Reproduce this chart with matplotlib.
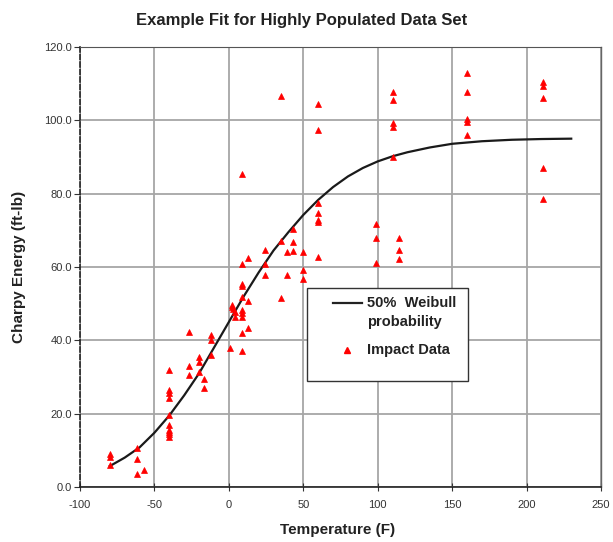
import matplotlib
matplotlib.use("Agg")
import matplotlib.pyplot as plt
from matplotlib.patches import Rectangle
from matplotlib.ticker import FormatStrFormatter

plt.rcParams['axes.unicode_minus'] = False

# impact data (temperature F, energy ft-lb)
impact_temp = [
    -80, -80, -80,
    -62, -62, -62, -57,
    -40, -40, -40, -40, -40, -40, -40, -40, -40, -40,
    -27, -27, -27,
    -20, -20, -20, -17, -17,
    -12, -12, -12,
    1, 2, 3, 4, 2, 4,
    9, 9, 9, 9, 9, 9, 9, 9, 9, 9,
    13, 13, 13,
    24, 24, 24,
    35, 35, 35,
    39, 39,
    43, 43, 43,
    50, 50, 50,
    60, 60, 60, 60, 60, 60, 60,
    99, 99, 99,
    110, 110, 110, 110, 110,
    114, 114, 114,
    160, 160, 160, 160, 160,
    211, 211, 211, 211, 211,
]
impact_energy = [
    9.0, 8.2, 5.9,
    10.6, 7.6, 3.6, 4.6,
    31.9, 26.5, 25.6, 24.3, 19.6, 16.9, 15.5, 14.5, 13.6, 15.0,
    42.3, 33.0, 30.5,
    35.5, 34.0, 31.4, 29.5, 27.0,
    41.5, 40.0, 36.0,
    38.0, 49.6, 48.5, 47.8, 49.0, 46.5,
    37.0, 42.1, 46.4, 47.5, 48.3, 51.9, 54.8, 55.5, 60.7, 85.4,
    43.4, 50.8, 62.5,
    64.6, 60.7, 57.8,
    67.2, 51.5, 106.7,
    64.0, 57.8,
    70.3, 66.9, 64.4,
    64.0, 59.2, 56.7,
    104.4, 97.4, 77.4, 74.7, 72.8, 72.3, 62.8,
    71.8, 67.9, 61.0,
    107.8, 105.5, 99.2, 98.3, 90.0,
    68.0, 64.7, 62.3,
    113.0, 107.8, 100.3, 99.6, 96.0,
    110.5, 109.4, 106.0, 86.9, 78.5,
]

# 50% Weibull curve
fit_temp = [-80, -70, -60, -50, -40, -30, -20, -10, 0, 10, 20, 30, 40, 50,
            60, 70, 80, 90, 100, 110, 120, 135, 150, 170, 190, 210, 230]
fit_energy = [5.7, 8.0, 10.8, 14.8, 19.5, 25.0, 31.0, 38.0, 45.0, 52.0, 58.5,
              64.5, 69.5, 74.2, 78.3, 81.8, 84.7, 87.0, 88.8, 90.2, 91.3,
              92.6, 93.6, 94.3, 94.7, 94.9, 95.0]

x_ticks = [-100, -50, 0, 50, 100, 150, 200, 250]
y_ticks = [0, 20, 40, 60, 80, 100, 120]

FONT = "Liberation Sans"
W, H = 613, 542


def style_axes(ax):
    ax.set_xlim(-100, 250)
    ax.set_ylim(0, 120)
    ax.set_xticks(x_ticks)
    ax.set_yticks(y_ticks)
    ax.yaxis.set_major_formatter(FormatStrFormatter('%.1f'))
    ax.grid(True, color='#a6a6a6', linewidth=1.3)
    ax.set_axisbelow(True)
    ax.tick_params(axis='x', direction='inout', length=6, width=0.8,
                   labelsize=8, pad=6, colors='#333333')
    ax.tick_params(axis='y', direction='out', length=4, width=0.8,
                   labelsize=8, pad=2, colors='#333333')
    for lab in ax.get_xticklabels() + ax.get_yticklabels():
        lab.set_fontfamily(FONT)
    ax.spines['bottom'].set_color('#222222')
    ax.spines['bottom'].set_linewidth(1.2)
    ax.spines['left'].set_color('#222222')
    ax.spines['left'].set_linewidth(1.2)
    ax.spines['left'].set_linestyle((0, (3, 1.5)))
    ax.spines['top'].set_color('#555555')
    ax.spines['top'].set_linewidth(0.8)
    ax.spines['top'].set_linestyle((0, (1, 1)))
    ax.spines['right'].set_color('#666666')
    ax.spines['right'].set_linewidth(1.0)


def draw_legend(ax):
    # box in axes fraction
    x0, y0, w, h = 0.436, 0.240, 0.309, 0.2125
    ax.add_patch(Rectangle((x0, y0), w, h, transform=ax.transAxes,
                           facecolor='white', edgecolor='#333333',
                           linewidth=1.0, zorder=5))
    ax.plot([0.485, 0.542], [0.419, 0.419], transform=ax.transAxes,
            color='#222222', linewidth=1.6, zorder=6)
    ax.text(0.551, 0.419, "50%  Weibull", transform=ax.transAxes,
            fontsize=10.5, fontweight='bold', family=FONT, va='center',
            color='#222222', zorder=6)
    ax.text(0.551, 0.374, "probability", transform=ax.transAxes,
            fontsize=10.5, fontweight='bold', family=FONT, va='center',
            color='#222222', zorder=6)
    ax.plot([0.513], [0.312], transform=ax.transAxes, marker='^',
            color='red', markersize=5, linestyle='none', zorder=6)
    ax.text(0.551, 0.312, "Impact Data", transform=ax.transAxes,
            fontsize=10.5, fontweight='bold', family=FONT, va='center',
            color='#222222', zorder=6)


fig = plt.figure(figsize=(W / 100, H / 100), dpi=100)
ax = fig.add_axes([80 / W, 1 - 487 / H, 521 / W, 440 / H])

style_axes(ax)
ax.plot(fit_temp, fit_energy, '-', color='#1a1a1a', linewidth=1.6, zorder=3)
ax.plot(impact_temp, impact_energy, '^', color='red', markersize=5,
        markeredgewidth=0.5, zorder=4)
draw_legend(ax)

fig.text(302 / W, 1 - 21 / H, "Example Fit for Highly Populated Data Set",
         ha='center', va='center', fontsize=12, fontweight='bold',
         family=FONT, color='#222222')
fig.text(338 / W, 1 - 530 / H, "Temperature (F)", ha='center', va='center',
         fontsize=11, fontweight='bold', family=FONT, color='#222222')
fig.text(19 / W, 1 - 267 / H, "Charpy Energy (ft-lb)", ha='center',
         va='center', rotation=90, fontsize=11, fontweight='bold',
         family=FONT, color='#222222')

fig.savefig("out.png", dpi=100, facecolor='white')
